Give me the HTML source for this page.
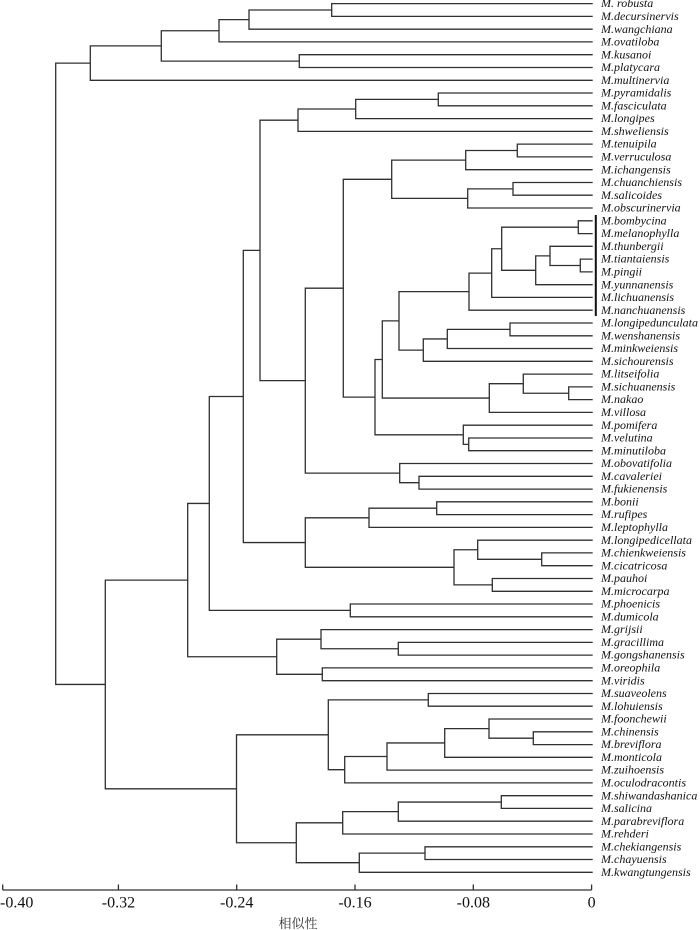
<!DOCTYPE html>
<html>
<head>
<meta charset="utf-8">
<style>
html,body{margin:0;padding:0;background:#fff;}
body{width:700px;height:930px;overflow:hidden;}
svg{display:block;}
.lf{font-family:"Liberation Serif",serif;font-style:italic;font-size:12px;fill:#111;}
.tk{font-family:"Liberation Serif",serif;font-size:16px;fill:#111;}
.ax{font-family:"Liberation Serif","Noto Serif CJK SC","Noto Sans CJK SC",serif;font-size:13px;fill:#333;}
</style>
</head>
<body>
<svg width="700" height="930" viewBox="0 0 700 930" xmlns="http://www.w3.org/2000/svg">
<g fill="none" stroke="#303030" stroke-width="1.3">
<path d="M592.7 3.6H331.7V16.4H592.7"/>
<path d="M331.7 10H249V29.2H592.7"/>
<path d="M249 19.6H219V41.9H592.7"/>
<path d="M592.7 54.7H299.3V67.5H592.7"/>
<path d="M219 30.75H161.3V61.1H299.3"/>
<path d="M161.3 45.9H90.3V80.3H592.7"/>
<path d="M592.7 93H438.3V105.8H592.7"/>
<path d="M438.3 99.4H355.7V118.6H592.7"/>
<path d="M355.7 109H298V131.4H592.7"/>
<path d="M592.7 144.1H517.3V156.9H592.7"/>
<path d="M517.3 150.5H465.7V169.7H592.7"/>
<path d="M592.7 182.5H513V195.2H592.7"/>
<path d="M513 188.85H467.7V208H592.7"/>
<path d="M465.7 160.1H391.7V198.4H467.7"/>
<path d="M592.7 220.8H578.3V233.6H592.7"/>
<path d="M592.7 259.1H580.3V271.9H592.7"/>
<path d="M592.7 246.3H550V265.5H580.3"/>
<path d="M550 255.9H535.7V284.7H592.7"/>
<path d="M578.3 227.2H501.7V270.3H535.7"/>
<path d="M501.7 248.75H491.7V297.4H592.7"/>
<path d="M491.7 273.1H469V310.2H592.7"/>
<path d="M592.7 323H510V335.8H592.7"/>
<path d="M510 329.4H447.3V348.5H592.7"/>
<path d="M447.3 338.95H423.3V361.3H592.7"/>
<path d="M469 291.65H399V350.1H423.3"/>
<path d="M592.7 386.9H568.7V399.6H592.7"/>
<path d="M592.7 374.1H523.3V393.25H568.7"/>
<path d="M523.3 383.7H489.3V412.4H592.7"/>
<path d="M399 320.9H382.3V398.05H489.3"/>
<path d="M592.7 438H468.7V450.7H592.7"/>
<path d="M592.7 425.2H463.3V444.35H468.7"/>
<path d="M382.3 359.5H375V434.8H463.3"/>
<path d="M391.7 179.3H343.3V397.15H375"/>
<path d="M592.7 476.3H419V489.1H592.7"/>
<path d="M592.7 463.5H399.7V482.7H419"/>
<path d="M343.3 288.2H305.3V473.1H399.7"/>
<path d="M298 120.2H260V380.65H305.3"/>
<path d="M592.7 501.8H436.7V514.6H592.7"/>
<path d="M436.7 508.2H369V527.4H592.7"/>
<path d="M592.7 552.9H541.7V565.7H592.7"/>
<path d="M592.7 540.2H477.7V559.3H541.7"/>
<path d="M592.7 578.5H492.3V591.3H592.7"/>
<path d="M477.7 549.75H454V584.9H492.3"/>
<path d="M369 517.8H305.3V567.3H454"/>
<path d="M260 250.4H243.3V542.55H305.3"/>
<path d="M592.7 604H350.3V616.8H592.7"/>
<path d="M243.3 396.5H209.3V610.4H350.3"/>
<path d="M592.7 642.4H398.3V655.1H592.7"/>
<path d="M592.7 629.6H321V648.75H398.3"/>
<path d="M592.7 667.9H322.3V680.7H592.7"/>
<path d="M321 639.2H276.7V674.3H322.3"/>
<path d="M209.3 503.45H187.7V656.75H276.7"/>
<path d="M592.7 693.5H428.3V706.2H592.7"/>
<path d="M592.7 731.8H533.3V744.6H592.7"/>
<path d="M592.7 719H489V738.2H533.3"/>
<path d="M489 728.6H444.7V757.3H592.7"/>
<path d="M444.7 742.95H387V770.1H592.7"/>
<path d="M387 756.5H344.7V782.9H592.7"/>
<path d="M428.3 699.85H328.3V769.7H344.7"/>
<path d="M592.7 795.7H501.3V808.4H592.7"/>
<path d="M501.3 802.05H398.3V821.2H592.7"/>
<path d="M398.3 811.6H342.7V834H592.7"/>
<path d="M592.7 846.8H425V859.5H592.7"/>
<path d="M425 853.15H359.3V872.3H592.7"/>
<path d="M342.7 822.8H296.3V862.7H359.3"/>
<path d="M328.3 734.8H236.5V842.75H296.3"/>
<path d="M187.7 580.1H105.3V788.8H236.5"/>
<path d="M90.3 63.1H55.7V684.45H105.3"/>
<path d="M2.7 890H591.6"/>
<path d="M2.7 884.5V890M118.4 884.5V890M236.7 884.5V890M355 884.5V890M473.3 884.5V890M591.6 884.5V890"/>
</g>
<rect x="594.8" y="215" width="2" height="101" fill="#111"/>
<g class="lf" transform="translate(0.5,-1)">
<text x="600.5" y="8.2">M. robusta</text>
<text x="600.5" y="21">M.decursinervis</text>
<text x="600.5" y="33.8">M.wangchiana</text>
<text x="600.5" y="46.5">M.ovatiloba</text>
<text x="600.5" y="59.3">M.kusanoi</text>
<text x="600.5" y="72.1">M.platycara</text>
<text x="600.5" y="84.9">M.multinervia</text>
<text x="600.5" y="97.6">M.pyramidalis</text>
<text x="600.5" y="110.4">M.fasciculata</text>
<text x="600.5" y="123.2">M.longipes</text>
<text x="600.5" y="136">M.shweliensis</text>
<text x="600.5" y="148.7">M.tenuipila</text>
<text x="600.5" y="161.5">M.verruculosa</text>
<text x="600.5" y="174.3">M.ichangensis</text>
<text x="600.5" y="187.1">M.chuanchiensis</text>
<text x="600.5" y="199.8">M.salicoides</text>
<text x="600.5" y="212.6">M.obscurinervia</text>
<text x="600.5" y="225.4">M.bombycina</text>
<text x="600.5" y="238.2">M.melanophylla</text>
<text x="600.5" y="250.9">M.thunbergii</text>
<text x="600.5" y="263.7">M.tiantaiensis</text>
<text x="600.5" y="276.5">M.pingii</text>
<text x="600.5" y="289.3">M.yunnanensis</text>
<text x="600.5" y="302">M.lichuanensis</text>
<text x="600.5" y="314.8">M.nanchuanensis</text>
<text x="600.5" y="327.6">M.longipedunculata</text>
<text x="600.5" y="340.4">M.wenshanensis</text>
<text x="600.5" y="353.1">M.minkweiensis</text>
<text x="600.5" y="365.9">M.sichourensis</text>
<text x="600.5" y="378.7">M.litseifolia</text>
<text x="600.5" y="391.5">M.sichuanensis</text>
<text x="600.5" y="404.2">M.nakao</text>
<text x="600.5" y="417">M.villosa</text>
<text x="600.5" y="429.8">M.pomifera</text>
<text x="600.5" y="442.6">M.velutina</text>
<text x="600.5" y="455.3">M.minutiloba</text>
<text x="600.5" y="468.1">M.obovatifolia</text>
<text x="600.5" y="480.9">M.cavaleriei</text>
<text x="600.5" y="493.7">M.fukienensis</text>
<text x="600.5" y="506.4">M.bonii</text>
<text x="600.5" y="519.2">M.rufipes</text>
<text x="600.5" y="532">M.leptophylla</text>
<text x="600.5" y="544.8">M.longipedicellata</text>
<text x="600.5" y="557.5">M.chienkweiensis</text>
<text x="600.5" y="570.3">M.cicatricosa</text>
<text x="600.5" y="583.1">M.pauhoi</text>
<text x="600.5" y="595.9">M.microcarpa</text>
<text x="600.5" y="608.6">M.phoenicis</text>
<text x="600.5" y="621.4">M.dumicola</text>
<text x="600.5" y="634.2">M.grijsii</text>
<text x="600.5" y="647">M.gracillima</text>
<text x="600.5" y="659.7">M.gongshanensis</text>
<text x="600.5" y="672.5">M.oreophila</text>
<text x="600.5" y="685.3">M.viridis</text>
<text x="600.5" y="698.1">M.suaveolens</text>
<text x="600.5" y="710.8">M.lohuiensis</text>
<text x="600.5" y="723.6">M.foonchewii</text>
<text x="600.5" y="736.4">M.chinensis</text>
<text x="600.5" y="749.2">M.breviflora</text>
<text x="600.5" y="761.9">M.monticola</text>
<text x="600.5" y="774.7">M.zuihoensis</text>
<text x="600.5" y="787.5">M.oculodracontis</text>
<text x="600.5" y="800.3">M.shiwandashanica</text>
<text x="600.5" y="813">M.salicina</text>
<text x="600.5" y="825.8">M.parabreviflora</text>
<text x="600.5" y="838.6">M.rehderi</text>
<text x="600.5" y="851.4">M.chekiangensis</text>
<text x="600.5" y="864.1">M.chayuensis</text>
<text x="600.5" y="876.9">M.kwangtungensis</text>
</g>
<g class="tk">
<text x="0" y="907.5">-0.40</text>
<text x="118.4" y="907.5" text-anchor="middle">-0.32</text>
<text x="236.7" y="907.5" text-anchor="middle">-0.24</text>
<text x="355" y="907.5" text-anchor="middle">-0.16</text>
<text x="473.3" y="907.5" text-anchor="middle">-0.08</text>
<text x="591.6" y="907.5" text-anchor="middle">0</text>
</g>
<text class="ax" x="298" y="928" text-anchor="middle">相似性</text>
</svg>
</body>
</html>
